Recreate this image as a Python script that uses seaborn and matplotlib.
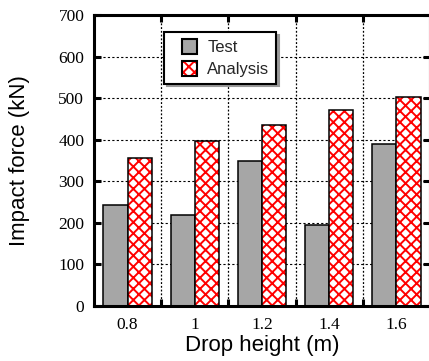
import pandas as pd
import matplotlib
matplotlib.use("Agg")
import matplotlib.pyplot as plt
import matplotlib.patches as mpatches
from matplotlib.legend_handler import HandlerPatch, HandlerTuple
from matplotlib.ticker import FixedLocator
import seaborn as sns

# --- dados ---
drop_heights = ['0.8', '1', '1.2', '1.4', '1.6']
test_force = [243, 220, 350, 194, 389]
analysis_force = [355, 397, 435, 471, 502]
series_names = ['Test', 'Analysis']
y_ticks = [0, 100, 200, 300, 400, 500, 600, 700]

df = pd.DataFrame({
    'Drop height': drop_heights * 2,
    'Impact force': test_force + analysis_force,
    'Tipo': [series_names[0]] * len(drop_heights) + [series_names[1]] * len(drop_heights),
})

sns.set_theme(style="white")
plt.rcParams['hatch.linewidth'] = 1.4

fig = plt.figure(figsize=(4.29, 3.61), dpi=100)
ax = fig.add_axes([94 / 429, 55 / 361, 336 / 429, 291 / 361])

sns.barplot(
    data=df, x='Drop height', y='Impact force', hue='Tipo',
    order=drop_heights, hue_order=series_names,
    palette=['#a6a6a6', 'white'], width=0.72, saturation=1,
    edgecolor='black', linewidth=1.1, legend=False, ax=ax,
)

# hachura vermelha nas barras de análise, contorno preto por cima
for bar in ax.containers[1]:
    bar.set_edgecolor('red')
    bar.set_linewidth(0)
    bar.set_hatch('xxx')
    ax.add_patch(mpatches.Rectangle(bar.get_xy(), bar.get_width(), bar.get_height(),
                                    fill=False, edgecolor='black', linewidth=1.1, zorder=bar.get_zorder() + 0.1))

ax.set_xlim(-0.5, len(drop_heights) - 0.5)
ax.set_ylim(0, 700)
ax.set_yticks(y_ticks)
ax.xaxis.set_minor_locator(FixedLocator([i + 0.5 for i in range(len(drop_heights) - 1)]))

ax.set_axisbelow(True)
ax.grid(True, axis='y', which='major', color='black', linestyle=(0, (2, 2)), linewidth=0.8)
ax.grid(True, axis='x', which='minor', color='black', linestyle=(0, (1.5, 1.5)), linewidth=0.9)
ax.grid(False, axis='x', which='major')

for s in ax.spines.values():
    s.set_linewidth(2.2)
    s.set_color('black')

ax.tick_params(axis='y', which='major', direction='in', length=5, width=2.2,
               left=True, right=True, labelsize=12.5, pad=7, colors='black')
ax.tick_params(axis='x', which='major', length=0, labelsize=12.5, pad=8, colors='black')
ax.tick_params(axis='x', which='minor', direction='in', length=5, width=2.2,
               bottom=True, top=True, colors='black')
for lab in ax.get_xticklabels() + ax.get_yticklabels():
    lab.set_fontfamily('Liberation Serif')

ax.set_xlabel('Drop height (m)', fontsize=16, family='Liberation Sans', va='center', color='black')
ax.set_ylabel('Impact force (kN)', fontsize=16, family='Liberation Sans', va='center', color='black')
ax.xaxis.set_label_coords(0.5, (306 - 346) / 291)
ax.yaxis.set_label_coords((19.5 - 94) / 336, 0.5)


def square_right(legend, orig_handle, xdescent, ydescent, width, height, fontsize):
    return mpatches.Rectangle((-xdescent + width - height, -ydescent), height, height)


test_handle = mpatches.Patch(facecolor='#a6a6a6', edgecolor='black', linewidth=1.5)
ana_fill = mpatches.Patch(facecolor='white', edgecolor='red', hatch='xxx', linewidth=0)
ana_edge = mpatches.Patch(facecolor='none', edgecolor='black', linewidth=1.5)

leg = ax.legend(
    handles=[test_handle, (ana_fill, ana_edge)], labels=series_names,
    handler_map={mpatches.Patch: HandlerPatch(patch_func=square_right),
                 tuple: HandlerTuple(ndivide=1)},
    loc='upper left', bbox_to_anchor=((164 - 94) / 336, (306 - 32) / 291),
    borderaxespad=0, fancybox=False, shadow={'color': '0.6', 'alpha': 1},
    framealpha=1, edgecolor='black', prop={'family': 'Liberation Sans', 'size': 12},
    handlelength=1.6, handleheight=1.0, handletextpad=0.6, labelspacing=0.35,
    borderpad=0.4,
)
leg.get_frame().set_linewidth(1.5)

fig.savefig('out.png', dpi=100)
